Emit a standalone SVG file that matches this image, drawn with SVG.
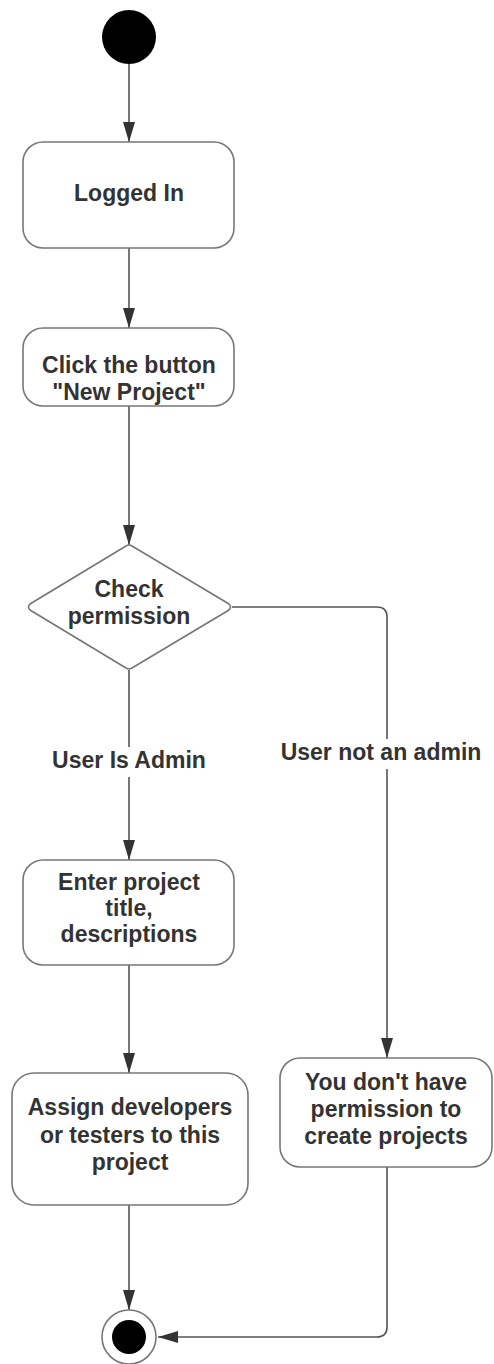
<svg xmlns="http://www.w3.org/2000/svg" width="494" height="1364" viewBox="0 0 494 1364">
<style>
.box{fill:#fff;stroke:#777;stroke-width:1.6}
.ln{fill:none;stroke:#555;stroke-width:1.6}
.t{font-family:"Liberation Sans",Arial,sans-serif;font-weight:bold;font-size:23px;fill:#333;text-anchor:middle}
</style>
<defs>
<marker id="arr" markerWidth="20" markerHeight="14" refX="20" refY="7" orient="auto" markerUnits="userSpaceOnUse">
<path d="M0,1 L20,7 L0,13 z" fill="#333"/>
</marker>
</defs>
<rect width="494" height="1364" fill="#fff"/>
<g id="connectors">
<path class="ln" d="M129,64 V142" marker-end="url(#arr)"/>
<path class="ln" d="M129,248 V328" marker-end="url(#arr)"/>
<path class="ln" d="M129,406 V545" marker-end="url(#arr)"/>
<path class="ln" d="M129,670 V860" marker-end="url(#arr)"/>
<path class="ln" d="M232,607 H377 Q387,607 387,617 V1058" marker-end="url(#arr)"/>
<path class="ln" d="M129,965 V1073" marker-end="url(#arr)"/>
<path class="ln" d="M129,1205 V1310" marker-end="url(#arr)"/>
<path class="ln" d="M387,1167 V1327 Q387,1337 377,1337 H158" marker-end="url(#arr)"/>
<rect x="48" y="747" width="162" height="30" fill="#fff"/>
<text class="t" x="129" y="768">User Is Admin</text>
<rect x="281" y="739" width="200" height="30" fill="#fff"/>
<text class="t" x="381" y="760">User not an admin</text>
</g>
<g id="start"><circle cx="129" cy="37" r="27" fill="#000"/></g>
<g id="logged-in">
<rect class="box" x="23" y="142" width="211" height="106" rx="20"/>
<text class="t" x="129" y="201">Logged In</text>
</g>
<g id="click-button">
<rect class="box" x="23" y="328" width="211" height="78" rx="20"/>
<text class="t" x="129" y="373">Click the button</text>
<text class="t" x="129" y="400">"New Project"</text>
</g>
<g id="check-permission">
<path class="box" d="M126,546 Q129,544 132,546 L229,604 Q232,607 229,610 L132,668 Q129,670 126,668 L30,610 Q27,607 30,604 Z"/>
<text class="t" x="129" y="597">Check</text>
<text class="t" x="129" y="624">permission</text>
</g>
<g id="enter-project">
<rect class="box" x="23" y="860" width="211" height="105" rx="20"/>
<text class="t" x="129" y="890">Enter project</text>
<text class="t" x="129" y="916">title,</text>
<text class="t" x="129" y="942">descriptions</text>
</g>
<g id="assign">
<rect class="box" x="12" y="1073" width="236" height="132" rx="22"/>
<text class="t" x="130" y="1115">Assign developers</text>
<text class="t" x="130" y="1143">or testers to this</text>
<text class="t" x="130" y="1170">project</text>
</g>
<g id="no-permission">
<rect class="box" x="280" y="1058" width="212" height="109" rx="20"/>
<text class="t" x="386" y="1090">You don't have</text>
<text class="t" x="386" y="1117">permission to</text>
<text class="t" x="386" y="1144">create projects</text>
</g>
<g id="end">
<circle cx="129" cy="1337" r="27" fill="#fff" stroke="#777" stroke-width="1.6"/>
<circle cx="129" cy="1337" r="17" fill="#000"/>
</g>
</svg>
